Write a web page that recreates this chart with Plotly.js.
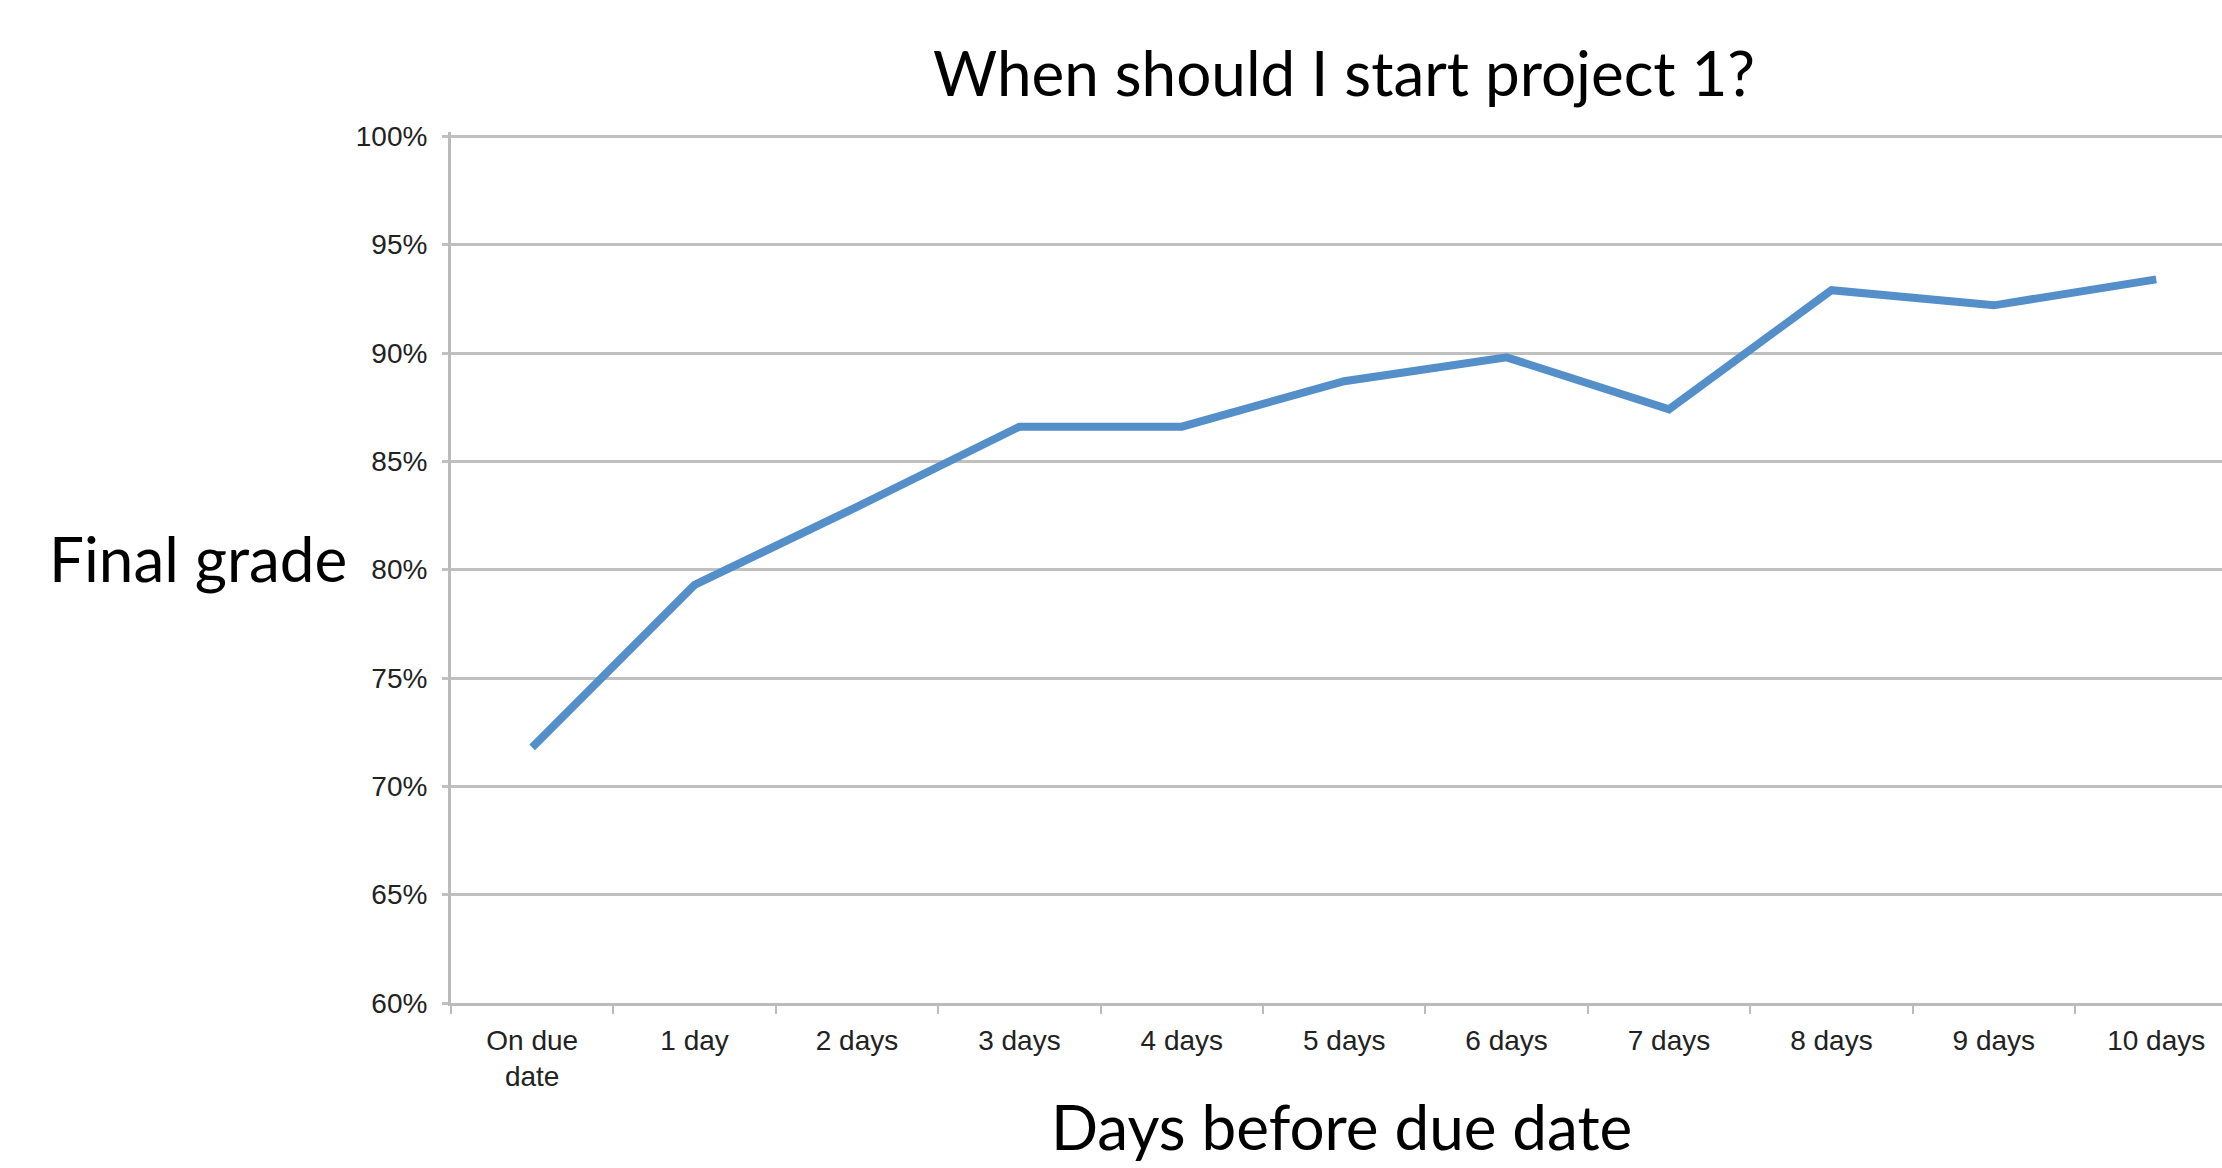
<!DOCTYPE html>
<html>
<head>
<meta charset="utf-8">
<script src="https://cdn.plot.ly/plotly-3.0.1.min.js"></script>
<style>
  html, body { margin: 0; padding: 0; background: #ffffff; overflow: hidden; }
  #chart { width: 2222px; height: 1168px; }
</style>
</head>
<body>
<div id="chart"></div>
<script>
// ---- data ----
const categories = ['On due date', '1 day', '2 days', '3 days', '4 days', '5 days',
                    '6 days', '7 days', '8 days', '9 days', '10 days'];
const tickLabels = ['On due<br>date', '1 day', '2 days', '3 days', '4 days', '5 days',
                    '6 days', '7 days', '8 days', '9 days', '10 days'];
const finalGrade = [71.8, 79.3, 82.9, 86.6, 86.6, 88.7, 89.8, 87.4, 92.9, 92.2, 93.4];
const yTickValues = [60, 65, 70, 75, 80, 85, 90, 95, 100];
const yTickLabels = ['60%', '65%', '70%', '75%', '80%', '85%', '90%', '95%', '100%'];

const chartTitle = 'When should I start project 1?';
const xTitle = 'Days before due date';
const yTitle = 'Final grade';

const titleFont = { family: 'Lato, "Open Sans", sans-serif', size: 62, color: '#000000' };
const tickFont = { family: '"Liberation Sans", Arial, sans-serif', size: 28, color: '#222222' };

const trace = {
  type: 'scatter',
  mode: 'lines',
  x: categories,
  y: finalGrade,
  line: { color: '#548fca', width: 8, shape: 'linear' },
  hoverinfo: 'x+y'
};

const layout = {
  width: 2222,
  height: 1168,
  margin: { l: 451, r: 0, t: 132, b: 165, pad: 0 },
  paper_bgcolor: '#ffffff',
  plot_bgcolor: '#ffffff',
  showlegend: false,
  font: tickFont,
  title: {
    text: chartTitle,
    font: titleFont,
    xref: 'container', x: 0.6049, xanchor: 'center',
    yref: 'container', y: 0.9366, yanchor: 'middle'
  },
  xaxis: {
    type: 'category',
    categoryorder: 'array',
    categoryarray: categories,
    tickmode: 'array',
    tickvals: categories,
    ticktext: tickLabels,
    range: [-0.5, 10.405],
    tickson: 'boundaries',
    ticks: 'outside',
    ticklen: 8,
    tickwidth: 2,
    tickcolor: '#bdbdbd',
    showgrid: false,
    showline: true,
    linecolor: '#bbbbbb',
    linewidth: 3,
    zeroline: false,
    tickfont: tickFont,
    ticklabelstandoff: 10,
    automargin: false,
    fixedrange: true
  },
  yaxis: {
    range: [60, 100.2],
    tickmode: 'array',
    tickvals: yTickValues,
    ticktext: yTickLabels,
    ticks: 'outside',
    ticklen: 6,
    tickwidth: 3,
    tickcolor: '#c0c0c0',
    showgrid: true,
    gridcolor: '#c0c0c0',
    gridwidth: 3,
    showline: true,
    linecolor: '#bbbbbb',
    linewidth: 3,
    zeroline: false,
    tickfont: tickFont,
    ticklabelstandoff: 9,
    automargin: false,
    fixedrange: true
  },
  annotations: [
    {
      text: yTitle,
      xref: 'paper', x: -0.1429, xanchor: 'center',
      yref: 'y', y: 80.55, yanchor: 'middle',
      showarrow: false,
      font: titleFont
    },
    {
      text: xTitle,
      xref: 'paper', x: 0.503, xanchor: 'center',
      yref: 'paper', y: -0.1855, yanchor: 'bottom',
      showarrow: false,
      font: titleFont
    }
  ]
};

Plotly.newPlot('chart', [trace], layout, { displayModeBar: false, staticPlot: true });
</script>
</body>
</html>
